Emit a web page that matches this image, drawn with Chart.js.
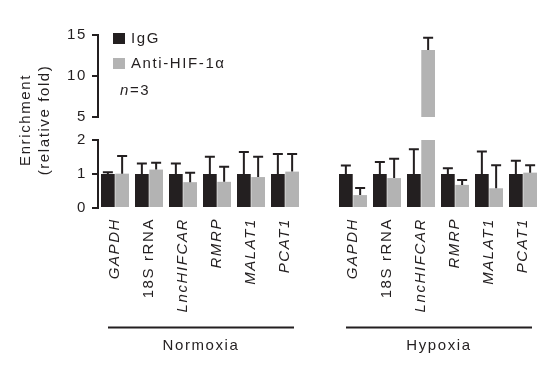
<!DOCTYPE html>
<html>
<head>
<meta charset="utf-8">
<script src="https://cdn.jsdelivr.net/npm/chart.js@4.4.1/dist/chart.umd.min.js"></script>
<style>
  html, body { margin: 0; padding: 0; background: #fff; }
</style>
</head>
<body>
<canvas id="chart" width="556" height="366"></canvas>
<script>
// data (RIP-qPCR, n=3)
const genes = ["GAPDH", "18S rRNA", "LncHIFCAR", "RMRP", "MALAT1", "PCAT1"];
const conditions = ["Normoxia", "Hypoxia"];
const seriesNames = ["IgG", "Anti-HIF-1\u03b1"];

const iggNormoxia = [1, 1, 1, 1, 1, 1];
const iggNormoxiaErr = [0.05, 0.31, 0.31, 0.51, 0.65, 0.59];
const antiNormoxia = [1.01, 1.13, 0.76, 0.77, 0.91, 1.07];
const antiNormoxiaErr = [0.52, 0.2, 0.28, 0.44, 0.6, 0.52];

const iggHypoxia = [1, 1, 1, 1, 1, 1];
const iggHypoxiaErr = [0.25, 0.35, 0.73, 0.17, 0.66, 0.39];
const antiHypoxia = [0.38, 0.88, 13.17, 0.68, 0.58, 1.04];
const antiHypoxiaErr = [0.21, 0.57, 1.5, 0.14, 0.68, 0.22];

const lowTicks = [0, 1, 2];
const highTicks = [5, 10, 15];

const INK = "#231f20";
const GREY = "#b3b3b3";
const FONT = "'Liberation Sans', Arial, sans-serif";
const TRACK = "1.6px";

Chart.defaults.font.family = FONT;
Chart.defaults.font.size = 15;
Chart.defaults.color = INK;

// one empty slot between the two conditions
const labels = [...genes, "", ...genes];
const join = (a, b) => [...a, null, ...b];

const igg = join(iggNormoxia, iggHypoxia);
const iggErr = join(iggNormoxiaErr, iggHypoxiaErr);
const anti = join(antiNormoxia, antiHypoxia);
const antiErr = join(antiNormoxiaErr, antiHypoxiaErr);

const LOW_MAX = lowTicks[lowTicks.length - 1];
const HIGH_MIN = highTicks[0];

const antiLow = anti.map(v => v == null ? null : Math.min(v, LOW_MAX));
const antiHigh = anti.map(v => v != null && v > HIGH_MIN ? [HIGH_MIN, v] : null);

const tracking = {
  id: "tracking",
  beforeUpdate(chart) { chart.ctx.letterSpacing = TRACK; },
  beforeDraw(chart) { chart.ctx.letterSpacing = TRACK; }
};

const errorBars = {
  id: "errorBars",
  afterDatasetsDraw(chart) {
    const ctx = chart.ctx;
    ctx.save();
    ctx.strokeStyle = INK;
    ctx.lineWidth = 2;
    chart.data.datasets.forEach((ds, di) => {
      const meta = chart.getDatasetMeta(di);
      const scale = chart.scales[ds.yAxisID];
      meta.data.forEach((bar, i) => {
        const v = ds.means[i];
        const e = ds.errors[i];
        if (v == null || e == null) return;
        if (ds.yAxisID === "yLow" && v > LOW_MAX) return;
        if (ds.yAxisID === "yHigh" && v <= HIGH_MIN) return;
        const y0 = scale.getPixelForValue(v);
        const y1 = scale.getPixelForValue(v + e);
        ctx.beginPath();
        ctx.moveTo(bar.x, y0);
        ctx.lineTo(bar.x, y1);
        ctx.moveTo(bar.x - 5, y1);
        ctx.lineTo(bar.x + 5, y1);
        ctx.stroke();
      });
    });
    ctx.restore();
  }
};

const extras = {
  id: "extras",
  afterDraw(chart) {
    const ctx = chart.ctx;
    const x = chart.scales.x;
    const area = chart.chartArea;
    ctx.save();
    ctx.letterSpacing = TRACK;
    ctx.fillStyle = INK;
    ctx.strokeStyle = INK;

    // legend
    ctx.font = "15px " + FONT;
    ctx.textBaseline = "middle";
    ctx.textAlign = "left";
    [0, 1].forEach(k => {
      const ds = chart.data.datasets[k];
      const top = area.top - 2 + k * 25;
      ctx.fillStyle = ds.backgroundColor;
      ctx.fillRect(area.left + 15, top, 12, 11);
      ctx.fillStyle = INK;
      ctx.fillText(ds.label, area.left + 33, top + 6);
    });
    ctx.font = "italic 15px " + FONT;
    ctx.fillText("n", area.left + 22, area.top + 56);
    const nw = ctx.measureText("n").width;
    ctx.font = "15px " + FONT;
    ctx.fillText("=3", area.left + 22 + nw, area.top + 56);

    // y title
    ctx.save();
    ctx.translate(26, 120);
    ctx.rotate(-Math.PI / 2);
    ctx.textAlign = "center";
    ctx.font = "15px " + FONT;
    ctx.fillText("Enrichment", 0, 0);
    ctx.fillText("(relative fold)", 0, 19);
    ctx.restore();

    // condition brackets
    ctx.lineWidth = 2;
    ctx.textAlign = "center";
    conditions.forEach((name, c) => {
      const first = c * (genes.length + 1);
      const last = first + genes.length - 1;
      const x0 = x.getPixelForValue(first) - 7;
      const x1 = x.getPixelForValue(last) + 9;
      ctx.beginPath();
      ctx.moveTo(x0, 327.5);
      ctx.lineTo(x1, 327.5);
      ctx.stroke();
      ctx.fillText(name, (x0 + x1) / 2, 346);
    });
    ctx.restore();
  }
};

const yCommon = {
  position: "left",
  stack: "enrichment",
  stacked: false,
  beginAtZero: false,
  afterFit(scale) { scale.width = 98; },
  border: { display: true, color: INK, width: 2 },
  grid: { display: true, drawOnChartArea: false, drawTicks: true, tickLength: 6, color: INK, lineWidth: 2 },
  ticks: { padding: 5, color: INK, font: { size: 15 } }
};

new Chart(document.getElementById("chart"), {
  type: "bar",
  data: {
    labels: labels,
    datasets: [
      {
        label: seriesNames[0],
        data: igg,
        means: igg,
        errors: iggErr,
        yAxisID: "yLow",
        stack: "igg",
        backgroundColor: INK
      },
      {
        label: seriesNames[1],
        data: antiLow,
        means: anti,
        errors: antiErr,
        yAxisID: "yLow",
        stack: "anti",
        backgroundColor: GREY
      },
      {
        label: seriesNames[1] + " (upper)",
        data: antiHigh,
        means: anti,
        errors: antiErr,
        yAxisID: "yHigh",
        stack: "anti",
        backgroundColor: GREY
      }
    ]
  },
  options: {
    responsive: false,
    animation: false,
    categoryPercentage: 0.84,
    barPercentage: 0.96,
    layout: { padding: { top: 35, right: 16, bottom: 0, left: 0 } },
    plugins: {
      legend: { display: false },
      tooltip: { enabled: false }
    },
    scales: {
      x: {
        type: "category",
        stacked: true,
        offset: true,
        afterFit(scale) { scale.height = 158; },
        grid: { display: false, drawTicks: false },
        border: { display: false },
        ticks: {
          autoSkip: false,
          maxRotation: 90,
          minRotation: 90,
          padding: 10,
          color: INK,
          font: ctx => ({ size: 15, style: ctx.tick && ctx.tick.label === "18S rRNA" ? "normal" : "italic" })
        }
      },
      yHigh: Object.assign({}, yCommon, {
        weight: 3,
        stackWeight: 82,
        min: highTicks[0],
        max: highTicks[highTicks.length - 1],
        afterBuildTicks(scale) { scale.ticks = highTicks.map(v => ({ value: v })); }
      }),
      yGap: {
        position: "left",
        stack: "enrichment",
        weight: 2,
        stackWeight: 23,
        min: 0,
        max: 1,
        afterFit(scale) { scale.width = 98; },
        border: { display: false },
        grid: { display: false },
        ticks: { display: false }
      },
      yLow: Object.assign({}, yCommon, {
        weight: 1,
        stackWeight: 68,
        min: lowTicks[0],
        max: LOW_MAX,
        afterBuildTicks(scale) { scale.ticks = lowTicks.map(v => ({ value: v })); }
      })
    }
  },
  plugins: [tracking, errorBars, extras]
});
</script>
</body>
</html>
